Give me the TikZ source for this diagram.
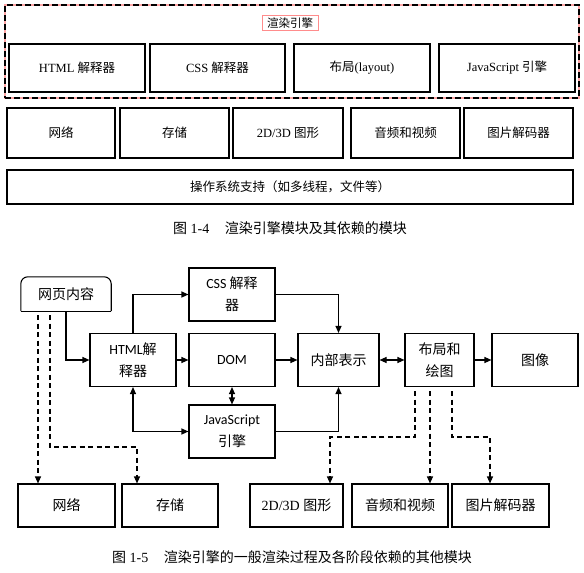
\documentclass[tikz,border=0pt]{standalone}
\usepackage{fontspec}
\setmainfont{Liberation Serif}
\newfontfamily\zh{Noto Sans CJK SC}
\newfontfamily\sanslat{Carlito}
\usetikzlibrary{arrows.meta}

\begin{document}
\begin{tikzpicture}[x=1pt, y=-1pt, >={Triangle[length=7pt,width=6pt]},
    modbox/.style={draw, line width=1.2pt, inner sep=0pt, minimum height=48pt, font=\fontsize{12.5}{15}\selectfont},
    flowbox/.style={draw, line width=1.1pt, inner sep=0pt, minimum width=86pt, minimum height=53pt, align=center, font=\fontsize{14}{22}\selectfont\sanslat},
    depbox/.style={draw, line width=1.1pt, inner sep=0pt, minimum height=43pt, font=\fontsize{14}{17}\selectfont},
    flow/.style={->, line width=1.1pt},
    dep/.style={->, line width=1.1pt, dash pattern=on 5pt off 3.5pt, shorten <=4pt},
    caption/.style={font=\fontsize{14}{17}\selectfont}]

  \useasboundingbox (0,0) rectangle (584,573);

  % Rendering engine
  \node[draw, line width=1.2pt, dash pattern=on 6pt off 3pt, preaction={draw=red!35, solid, line width=1.2pt},
        minimum width=574pt, minimum height=93pt] (engine) at (292,51.5) {};
  \node[draw=red!45, line width=0.8pt, minimum width=56pt, minimum height=15pt, inner sep=0pt,
        font=\fontsize{11.5}{13}\selectfont\zh] (title) at (290,23) {渲染引擎};
  \node[modbox, minimum width=136pt] (thtml) at (77,68) {HTML {\zh 解释器}};
  \node[modbox, minimum width=135pt] (tcss) at (217.5,68) {CSS {\zh 解释器}};
  \node[modbox, minimum width=136pt] (tlayout) at (362,68) {{\zh 布局}(layout)};
  \node[modbox, minimum width=136pt] (tjs) at (507,68) {JavaScript {\zh 引擎}};

  % Modules it depends on
  \node[modbox, minimum width=108pt, minimum height=50pt] (tnet) at (61,133) {\zh 网络};
  \node[modbox, minimum width=109pt, minimum height=50pt] (tstore) at (174.5,133) {\zh 存储};
  \node[modbox, minimum width=110pt, minimum height=50pt] (tgfx) at (288,133) {2D/3D {\zh 图形}};
  \node[modbox, minimum width=109pt, minimum height=50pt] (taudio) at (405.5,133) {\zh 音频和视频};
  \node[modbox, minimum width=109pt, minimum height=50pt] (tcodec) at (518.5,133) {\zh 图片解码器};
  \node[modbox, minimum width=566pt, minimum height=34pt] (tos) at (290,187) {\zh 操作系统支持（如多线程，文件等）};

  \node[caption] (cap1) at (290,228) {{\zh 图} 1-4\hspace{1.1em}{\zh 渲染引擎模块及其依赖的模块}};

  % Rendering pipeline
  \node[minimum width=90pt, minimum height=34pt, inner sep=0pt, font=\fontsize{14}{17}\selectfont\zh] (web) at (66,294) {网页内容};
  \draw[line width=1.1pt, rounded corners=7pt] (web.south west) -- (web.north west) -- (web.north east) -- (web.south east);
  \draw[line width=1.1pt] (web.south west) -- (web.south east);

  \node[flowbox] (html) at (133,360) {HTML{\zh 解}\\{\zh 释器}};
  \node[flowbox] (css) at (232,294.5) {CSS {\zh 解释}\\{\zh 器}};
  \node[flowbox] (dom) at (232,360) {DOM};
  \node[flowbox] (js) at (232,431.5) {JavaScript\\{\zh 引擎}};
  \node[flowbox, minimum width=81pt] (inner) at (338.5,360) {\zh 内部表示};
  \node[flowbox, minimum width=69pt] (layout) at (439.5,360) {{\zh 布局和}\\{\zh 绘图}};
  \node[flowbox] (image) at (535,360) {\zh 图像};

  % Other modules
  \node[depbox, minimum width=97pt] (net) at (66.5,505.5) {\zh 网络};
  \node[depbox, minimum width=96pt] (store) at (170,505.5) {\zh 存储};
  \node[depbox, minimum width=93pt] (gfx) at (296.5,505.5) {2D/3D {\zh 图形}};
  \node[depbox, minimum width=96pt] (audio) at (400,505.5) {\zh 音频和视频};
  \node[depbox, minimum width=97pt] (codec) at (500.5,505.5) {\zh 图片解码器};

  % Connections
  \draw[flow] (web) |- (html);
  \draw[flow] (html) |- (css);
  \draw[flow] (html) -- (dom);
  \draw[flow] (dom) -- (inner);
  \draw[flow] (css) -| (inner);
  \draw[flow, <->] (dom) -- (js);
  \draw[flow, <->] (html) |- (js);
  \draw[flow] (js) -| (inner);
  \draw[flow, <->] (inner) -- (layout);
  \draw[flow] (layout) -- (image);

  % Dependencies
  \coordinate (s1) at (137,447);
  \coordinate (g1) at (330,437);
  \coordinate (g3) at (490,437);
  \draw[dep] ([xshift=-28pt]web.south) -- ([xshift=-28pt]web.south |- net.north);
  \draw[dep] ([xshift=-16pt]web.south) |- (s1) -- (s1 |- store.north);
  \draw[dep] ([xshift=-24.5pt]layout.south) |- (g1) -- (g1 |- gfx.north);
  \draw[dep] ([xshift=-9.5pt]layout.south) -- ([xshift=-9.5pt]layout.south |- audio.north);
  \draw[dep] ([xshift=12.5pt]layout.south) |- (g3) -- (g3 |- codec.north);

  \node[caption] (cap2) at (292,557) {{\zh 图} 1-5\hspace{1.1em}{\zh 渲染引擎的一般渲染过程及各阶段依赖的其他模块}};
\end{tikzpicture}
\end{document}
